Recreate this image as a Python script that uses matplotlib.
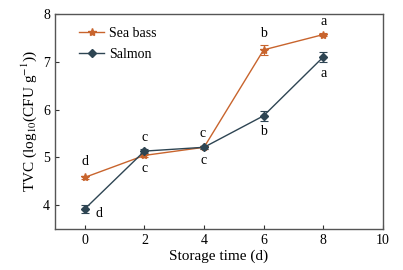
import matplotlib
matplotlib.use("Agg")
import matplotlib.pyplot as plt
from matplotlib.lines import Line2D

days = [0, 2, 4, 6, 8]
sea_bass = [4.58, 5.04, 5.21, 7.25, 7.57]
sea_bass_err = [0.03, 0.03, 0.03, 0.10, 0.04]
salmon = [3.92, 5.13, 5.21, 5.87, 7.10]
salmon_err = [0.08, 0.04, 0.03, 0.10, 0.10]
sea_bass_letters = ["d", "c", "c", "b", "a"]
salmon_letters = ["d", "c", "c", "b", "a"]

plt.rcParams['font.family'] = ['Liberation Serif', 'DejaVu Serif']
plt.rcParams['mathtext.fontset'] = 'stix'

c_sb = '#C8642D'
c_sa = '#2E4553'

fig = plt.figure(figsize=(4.03, 2.70), dpi=100)
ax = fig.add_axes([0.1365, 0.152, 0.8135, 0.796])

ax.errorbar(days, sea_bass, yerr=sea_bass_err, color=c_sb, marker='*', markersize=6,
            lw=1.0, capsize=3, elinewidth=0.8, capthick=0.8)
ax.errorbar(days, salmon, yerr=salmon_err, color=c_sa, marker='D', markersize=4.5,
            lw=1.0, capsize=3, elinewidth=0.8, capthick=0.8)

fs = 10
ax.annotate(sea_bass_letters[0], (days[0], sea_bass[0]), xytext=(0, 7), textcoords='offset points', ha='center', va='bottom', fontsize=fs)
ax.annotate(salmon_letters[0], (days[0], salmon[0]), xytext=(8, -3), textcoords='offset points', ha='left', va='center', fontsize=fs)
ax.annotate(salmon_letters[1], (days[1], salmon[1]), xytext=(0, 5), textcoords='offset points', ha='center', va='bottom', fontsize=fs)
ax.annotate(sea_bass_letters[1], (days[1], sea_bass[1]), xytext=(0, -5), textcoords='offset points', ha='center', va='top', fontsize=fs)
ax.annotate(sea_bass_letters[2], (days[2], sea_bass[2]), xytext=(-1, 5), textcoords='offset points', ha='center', va='bottom', fontsize=fs)
ax.annotate(salmon_letters[2], (days[2], salmon[2]), xytext=(0, -5), textcoords='offset points', ha='center', va='top', fontsize=fs)
ax.annotate(sea_bass_letters[3], (days[3], sea_bass[3]), xytext=(0, 7), textcoords='offset points', ha='center', va='bottom', fontsize=fs)
ax.annotate(salmon_letters[3], (days[3], salmon[3]), xytext=(0, -7), textcoords='offset points', ha='center', va='top', fontsize=fs)
ax.annotate(sea_bass_letters[4], (days[4], sea_bass[4]), xytext=(0, 5), textcoords='offset points', ha='center', va='bottom', fontsize=fs)
ax.annotate(salmon_letters[4], (days[4], salmon[4]), xytext=(0, -7), textcoords='offset points', ha='center', va='top', fontsize=fs)

ax.set_xlim(-1, 10)
ax.set_ylim(3.5, 8)
ax.set_xticks([0, 2, 4, 6, 8, 10])
ax.set_yticks([4, 5, 6, 7, 8])
ax.tick_params(direction='in', length=3, width=0.8, labelsize=10, color='#333333')
for s in ax.spines.values():
    s.set_color('#555555')
    s.set_linewidth(1.0)

ax.set_xlabel('Storage time (d)', fontsize=11, labelpad=2)
ax.set_ylabel(r'TVC (log$_{10}$(CFU g$^{-1}$))', fontsize=11, labelpad=3)

handles = [Line2D([], [], color=c_sb, marker='*', markersize=6, lw=1.0),
           Line2D([], [], color=c_sa, marker='D', markersize=4.5, lw=1.0)]
ax.legend(handles, ['Sea bass', 'Salmon'], loc='upper left', frameon=False, fontsize=10,
          bbox_to_anchor=(0.045, 0.985), handlelength=1.8, labelspacing=0.55, handletextpad=0.3,
          borderaxespad=0.3)

fig.savefig('out.png', dpi=100)
